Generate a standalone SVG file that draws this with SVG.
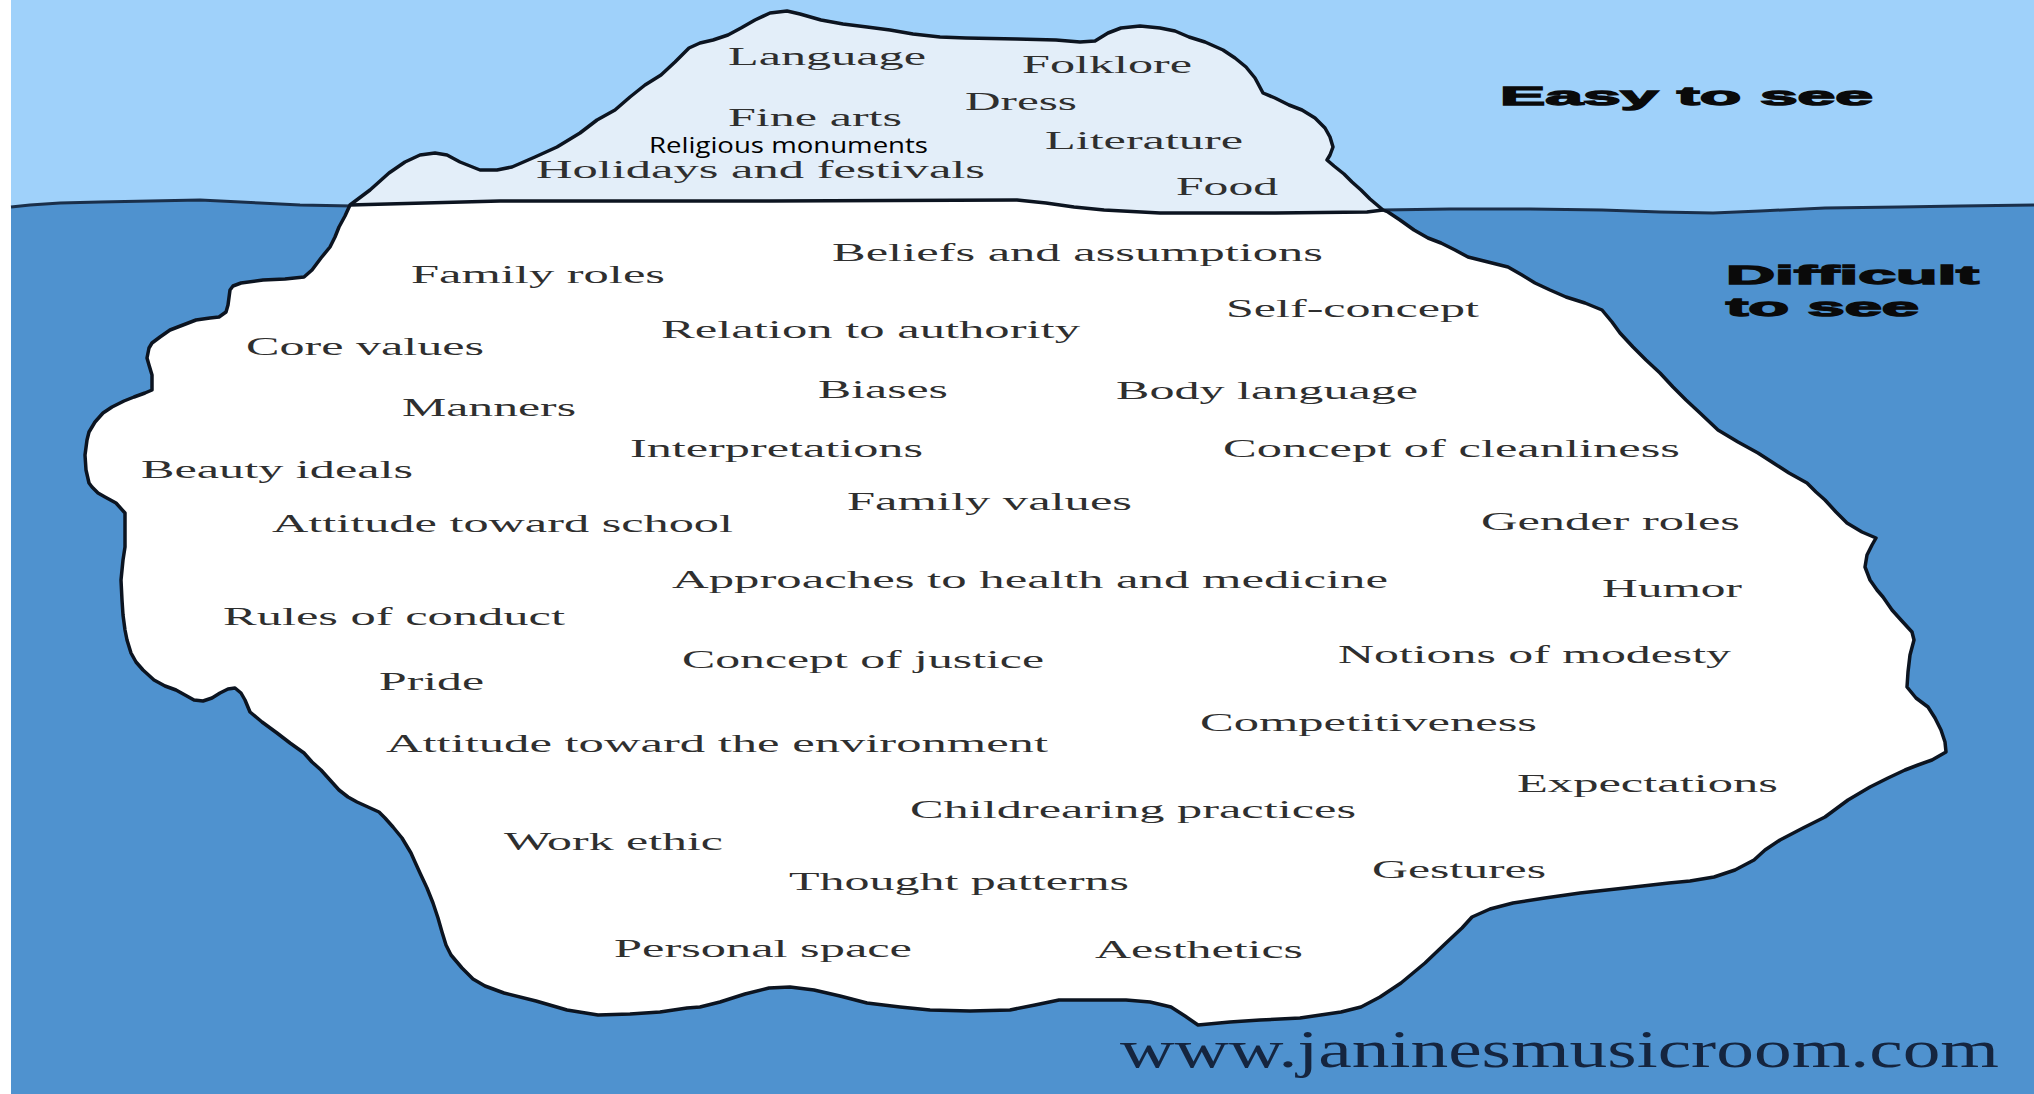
<svg xmlns="http://www.w3.org/2000/svg" width="2034" height="1094" viewBox="0 0 2034 1094">
<style>
.t{font-family:"Liberation Serif","Times New Roman",serif;font-size:25.5px;fill:#2f2f2f}
.lab{font-family:"Liberation Sans",Arial,sans-serif;font-weight:bold;font-size:26px;fill:#0a0a0a;stroke:#0a0a0a;stroke-width:1.3px}
.edge{fill:none;stroke:#0c1420;stroke-width:3.5;stroke-linejoin:round}
.wl{fill:none;stroke:#1a2f4a;stroke-width:3}
</style>
<rect x="0" y="0" width="2034" height="1094" fill="#ffffff"/>
<g id="sky"><rect x="11" y="0" width="2023" height="230" fill="#9fd1fa"/></g>
<g id="water">
<path d="M11,207 L30,205 L60,203 L100,202 L150,201 L200,200 L260,203 L300,205 L350,206 L1390,210 L1450,209 L1530,209 L1602,210 L1660,212 L1713,213 L1760,211 L1825,208 L1900,207 L1960,206 L2034,205 L2034,1094 L11,1094 Z" fill="#4f92cf"/>
<polyline class="wl" points="11,207 30,205 60,203 100,202 150,201 200,200 260,203 300,205 352,206"/>
<polyline class="wl" points="1383,210 1450,209 1530,209 1602,210 1660,212 1713,213 1760,211 1825,208 1900,207 1960,206 2034,205"/>
</g>
<g id="iceberg">
<path id="tip" d="M350,205 L370,190 L389,173 L405,162 L420,155 L435,153 L447,155 L460,162 L480,170 L497,170 L512,167 L535,157 L557,147 L580,133 L597,120 L615,110 L630,97 L645,85 L661,75 L675,62 L689,48 L700,43 L713,40 L728,35 L741,28 L755,20 L770,13 L787,11 L800,14 L821,20 L843,24 L867,27 L890,30 L913,34 L940,37 L966,38 L1017,39 L1056,40 L1080,42 L1095,41 L1108,33 L1121,28 L1140,26 L1160,28 L1175,31 L1189,37 L1205,42 L1223,50 L1235,58 L1246,67 L1255,78 L1263,93 L1275,98 L1289,105 L1302,110 L1315,118 L1325,128 L1330,137 L1333,147 L1330,155 L1327,160 L1334,166 L1344,174 L1352,182 L1361,190 L1370,199 L1383,210 L1367,212 L1275,213 L1160,213 L1104,210 L1074,207 L1046,203 L1017,200 L770,201 L500,201 Z" fill="#e3eef9"/>
<path id="under" d="M350,205 L500,201 L770,201 L1017,200 L1046,203 L1074,207 L1104,210 L1160,213 L1275,213 L1367,212 L1383,210 L1388,212 L1400,220 L1414,230 L1428,238 L1441,243 L1455,250 L1468,257 L1488,262 L1508,267 L1522,275 L1535,283 L1550,290 L1566,297 L1585,303 L1602,310 L1612,322 L1620,333 L1633,347 L1646,360 L1660,373 L1673,387 L1686,400 L1700,413 L1718,430 L1738,442 L1758,453 L1775,464 L1789,473 L1807,483 L1816,492 L1825,500 L1836,512 L1847,523 L1862,532 L1876,538 L1872,545 L1867,555 L1865,567 L1870,580 L1877,590 L1883,597 L1892,610 L1901,620 L1912,632 L1914,640 L1910,655 L1908,672 L1907,687 L1916,698 L1928,707 L1935,718 L1941,730 L1945,742 L1946,752 L1932,760 L1918,765 L1905,770 L1888,778 L1870,787 L1848,800 L1825,817 L1803,828 L1780,840 L1765,850 L1754,860 L1735,870 L1714,877 L1690,881 L1669,883 L1625,888 L1580,893 L1545,898 L1513,903 L1490,909 L1472,917 L1462,928 L1446,943 L1425,963 L1401,983 L1380,997 L1361,1007 L1341,1012 L1300,1018 L1260,1020 L1230,1022 L1198,1025 L1185,1016 L1171,1007 L1150,1002 L1126,1000 L1090,1000 L1059,1000 L1035,1005 L1010,1010 L970,1011 L930,1010 L900,1007 L867,1003 L840,996 L814,990 L790,987 L769,988 L745,994 L720,1002 L700,1007 L687,1008 L660,1012 L630,1014 L598,1015 L567,1010 L536,1001 L504,993 L485,986 L473,979 L462,968 L451,955 L446,945 L442,932 L438,918 L433,903 L427,888 L420,873 L415,862 L411,853 L402,838 L393,827 L385,818 L379,812 L368,807 L357,802 L348,797 L339,790 L330,780 L321,770 L312,762 L304,753 L290,743 L277,733 L262,722 L250,712 L245,700 L241,693 L235,688 L228,689 L220,693 L212,698 L203,701 L194,700 L185,695 L176,690 L165,686 L154,680 L143,670 L136,662 L131,653 L127,640 L125,630 L123,615 L122,600 L121,580 L123,560 L125,547 L125,530 L125,513 L116,503 L105,497 L98,493 L92,487 L89,483 L86,470 L85,455 L87,440 L89,432 L95,422 L103,413 L112,407 L124,401 L134,397 L145,393 L152,390 L152,375 L149,365 L147,358 L149,348 L152,343 L160,337 L170,330 L183,325 L196,320 L210,318 L219,317 L226,312 L228,305 L230,290 L233,286 L241,283 L263,280 L285,279 L304,277 L312,270 L321,258 L330,247 L335,237 L339,227 L345,216 Z" fill="#ffffff"/>
<path class="edge" d="M350,205 L370,190 L389,173 L405,162 L420,155 L435,153 L447,155 L460,162 L480,170 L497,170 L512,167 L535,157 L557,147 L580,133 L597,120 L615,110 L630,97 L645,85 L661,75 L675,62 L689,48 L700,43 L713,40 L728,35 L741,28 L755,20 L770,13 L787,11 L800,14 L821,20 L843,24 L867,27 L890,30 L913,34 L940,37 L966,38 L1017,39 L1056,40 L1080,42 L1095,41 L1108,33 L1121,28 L1140,26 L1160,28 L1175,31 L1189,37 L1205,42 L1223,50 L1235,58 L1246,67 L1255,78 L1263,93 L1275,98 L1289,105 L1302,110 L1315,118 L1325,128 L1330,137 L1333,147 L1330,155 L1327,160 L1334,166 L1344,174 L1352,182 L1361,190 L1370,199 L1383,210 L1388,212 L1400,220 L1414,230 L1428,238 L1441,243 L1455,250 L1468,257 L1488,262 L1508,267 L1522,275 L1535,283 L1550,290 L1566,297 L1585,303 L1602,310 L1612,322 L1620,333 L1633,347 L1646,360 L1660,373 L1673,387 L1686,400 L1700,413 L1718,430 L1738,442 L1758,453 L1775,464 L1789,473 L1807,483 L1816,492 L1825,500 L1836,512 L1847,523 L1862,532 L1876,538 L1872,545 L1867,555 L1865,567 L1870,580 L1877,590 L1883,597 L1892,610 L1901,620 L1912,632 L1914,640 L1910,655 L1908,672 L1907,687 L1916,698 L1928,707 L1935,718 L1941,730 L1945,742 L1946,752 L1932,760 L1918,765 L1905,770 L1888,778 L1870,787 L1848,800 L1825,817 L1803,828 L1780,840 L1765,850 L1754,860 L1735,870 L1714,877 L1690,881 L1669,883 L1625,888 L1580,893 L1545,898 L1513,903 L1490,909 L1472,917 L1462,928 L1446,943 L1425,963 L1401,983 L1380,997 L1361,1007 L1341,1012 L1300,1018 L1260,1020 L1230,1022 L1198,1025 L1185,1016 L1171,1007 L1150,1002 L1126,1000 L1090,1000 L1059,1000 L1035,1005 L1010,1010 L970,1011 L930,1010 L900,1007 L867,1003 L840,996 L814,990 L790,987 L769,988 L745,994 L720,1002 L700,1007 L687,1008 L660,1012 L630,1014 L598,1015 L567,1010 L536,1001 L504,993 L485,986 L473,979 L462,968 L451,955 L446,945 L442,932 L438,918 L433,903 L427,888 L420,873 L415,862 L411,853 L402,838 L393,827 L385,818 L379,812 L368,807 L357,802 L348,797 L339,790 L330,780 L321,770 L312,762 L304,753 L290,743 L277,733 L262,722 L250,712 L245,700 L241,693 L235,688 L228,689 L220,693 L212,698 L203,701 L194,700 L185,695 L176,690 L165,686 L154,680 L143,670 L136,662 L131,653 L127,640 L125,630 L123,615 L122,600 L121,580 L123,560 L125,547 L125,530 L125,513 L116,503 L105,497 L98,493 L92,487 L89,483 L86,470 L85,455 L87,440 L89,432 L95,422 L103,413 L112,407 L124,401 L134,397 L145,393 L152,390 L152,375 L149,365 L147,358 L149,348 L152,343 L160,337 L170,330 L183,325 L196,320 L210,318 L219,317 L226,312 L228,305 L230,290 L233,286 L241,283 L263,280 L285,279 L304,277 L312,270 L321,258 L330,247 L335,237 L339,227 L345,216 Z"/>
<polyline class="edge" points="350,205 500,201 770,201 1017,200 1046,203 1074,207 1104,210 1160,213 1275,213 1367,212 1383,210"/>
</g>
<g id="visible-items">
<text class="t" x="728" y="65" textLength="198" lengthAdjust="spacingAndGlyphs">Language</text>
<text class="t" x="1022" y="73" textLength="170" lengthAdjust="spacingAndGlyphs">Folklore</text>
<text class="t" x="965" y="110" textLength="112" lengthAdjust="spacingAndGlyphs">Dress</text>
<text class="t" x="728" y="126" textLength="174" lengthAdjust="spacingAndGlyphs">Fine arts</text>
<text x="649" y="153" textLength="279" lengthAdjust="spacingAndGlyphs" style="font-family:'Open Sans','Noto Sans',sans-serif;font-size:21.5px;fill:#000000">Religious monuments</text>
<text class="t" x="1045" y="149" textLength="198" lengthAdjust="spacingAndGlyphs">Literature</text>
<text class="t" x="536" y="178" textLength="449" lengthAdjust="spacingAndGlyphs">Holidays and festivals</text>
<text class="t" x="1176" y="195" textLength="102" lengthAdjust="spacingAndGlyphs">Food</text>
</g>
<g id="hidden-items">
<text class="t" x="832" y="261" textLength="491" lengthAdjust="spacingAndGlyphs">Beliefs and assumptions</text>
<text class="t" x="411" y="283" textLength="254" lengthAdjust="spacingAndGlyphs">Family roles</text>
<text class="t" x="1226" y="317" textLength="253" lengthAdjust="spacingAndGlyphs">Self-concept</text>
<text class="t" x="661" y="338" textLength="419" lengthAdjust="spacingAndGlyphs">Relation to authority</text>
<text class="t" x="246" y="355" textLength="238" lengthAdjust="spacingAndGlyphs">Core values</text>
<text class="t" x="818" y="398" textLength="130" lengthAdjust="spacingAndGlyphs">Biases</text>
<text class="t" x="1116" y="399" textLength="302" lengthAdjust="spacingAndGlyphs">Body language</text>
<text class="t" x="402" y="416" textLength="174" lengthAdjust="spacingAndGlyphs">Manners</text>
<text class="t" x="630" y="457" textLength="293" lengthAdjust="spacingAndGlyphs">Interpretations</text>
<text class="t" x="1223" y="457" textLength="457" lengthAdjust="spacingAndGlyphs">Concept of cleanliness</text>
<text class="t" x="141" y="478" textLength="272" lengthAdjust="spacingAndGlyphs">Beauty ideals</text>
<text class="t" x="847" y="510" textLength="285" lengthAdjust="spacingAndGlyphs">Family values</text>
<text class="t" x="272" y="532" textLength="461" lengthAdjust="spacingAndGlyphs">Attitude toward school</text>
<text class="t" x="1481" y="530" textLength="259" lengthAdjust="spacingAndGlyphs">Gender roles</text>
<text class="t" x="672" y="588" textLength="716" lengthAdjust="spacingAndGlyphs">Approaches to health and medicine</text>
<text class="t" x="1602" y="597" textLength="140" lengthAdjust="spacingAndGlyphs">Humor</text>
<text class="t" x="223" y="625" textLength="342" lengthAdjust="spacingAndGlyphs">Rules of conduct</text>
<text class="t" x="1338" y="663" textLength="393" lengthAdjust="spacingAndGlyphs">Notions of modesty</text>
<text class="t" x="682" y="668" textLength="362" lengthAdjust="spacingAndGlyphs">Concept of justice</text>
<text class="t" x="379" y="690" textLength="105" lengthAdjust="spacingAndGlyphs">Pride</text>
<text class="t" x="1200" y="731" textLength="337" lengthAdjust="spacingAndGlyphs">Competitiveness</text>
<text class="t" x="386" y="752" textLength="662" lengthAdjust="spacingAndGlyphs">Attitude toward the environment</text>
<text class="t" x="1517" y="792" textLength="261" lengthAdjust="spacingAndGlyphs">Expectations</text>
<text class="t" x="910" y="818" textLength="446" lengthAdjust="spacingAndGlyphs">Childrearing practices</text>
<text class="t" x="504" y="850" textLength="219" lengthAdjust="spacingAndGlyphs">Work ethic</text>
<text class="t" x="1372" y="878" textLength="174" lengthAdjust="spacingAndGlyphs">Gestures</text>
<text class="t" x="789" y="890" textLength="340" lengthAdjust="spacingAndGlyphs">Thought patterns</text>
<text class="t" x="614" y="957" textLength="298" lengthAdjust="spacingAndGlyphs">Personal space</text>
<text class="t" x="1095" y="958" textLength="208" lengthAdjust="spacingAndGlyphs">Aesthetics</text>
</g>
<g id="side-labels">
<text class="lab" x="1500" y="105" textLength="373" lengthAdjust="spacingAndGlyphs">Easy to see</text>
<text class="lab" x="1726" y="284" textLength="253" lengthAdjust="spacingAndGlyphs">Difficult</text>
<text class="lab" x="1726" y="316" textLength="193" lengthAdjust="spacingAndGlyphs">to see</text>
</g>
<g id="credit">
<text x="1120" y="1067" textLength="879" lengthAdjust="spacingAndGlyphs" style="font-family:'Liberation Serif','Times New Roman',serif;font-size:52px;fill:#15253f">www.janinesmusicroom.com</text>
</g>
</svg>
